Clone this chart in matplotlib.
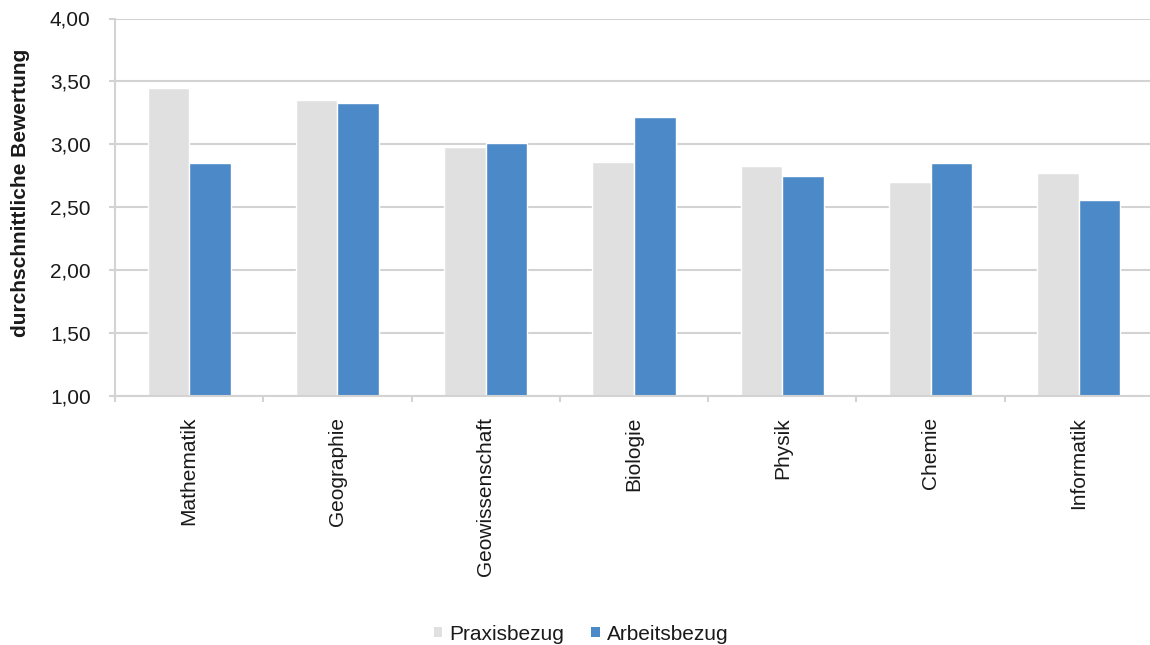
import matplotlib
matplotlib.use("Agg")
import matplotlib.pyplot as plt
import numpy as np
from matplotlib.patches import Patch
from matplotlib.ticker import FixedLocator, FuncFormatter

plt.rcParams['font.family'] = ['Liberation Sans', 'DejaVu Sans']

categories = ["Mathematik", "Geographie", "Geowissenschaft", "Biologie",
              "Physik", "Chemie", "Informatik"]
praxisbezug = [3.45, 3.35, 2.98, 2.86, 2.83, 2.70, 2.77]
arbeitsbezug = [2.85, 3.33, 3.01, 3.22, 2.75, 2.85, 2.56]
series_names = ["Praxisbezug", "Arbeitsbezug"]
y_ticks = [1.0, 1.5, 2.0, 2.5, 3.0, 3.5, 4.0]

grey = "#E0E0E0"
blue = "#4B89C8"
grid_col = "#D3D3D3"
text_col = "#1a1a1a"

fig = plt.figure(figsize=(11.5, 6.45), dpi=100)
ax = fig.add_axes([115 / 1150, 1 - 396 / 645, 1038 / 1150, (396 - 18.5) / 645])

x = np.arange(len(categories))
w = 0.28
ax.bar(x - w / 2, praxisbezug, width=w, bottom=0, color=grey,
       edgecolor="white", linewidth=1.0, zorder=3)
ax.bar(x + w / 2, arbeitsbezug, width=w, bottom=0, color=blue,
       edgecolor="white", linewidth=1.0, zorder=3)

ax.set_xlim(-0.5, len(categories) - 0.5)
ax.set_ylim(1.0, 4.0)

ax.yaxis.set_major_locator(FixedLocator(y_ticks))
ax.yaxis.set_major_formatter(FuncFormatter(lambda v, p: f"{v:.2f}".replace(".", ",")))
ax.grid(axis="y", color=grid_col, linewidth=1.5, zorder=0)
ax.tick_params(axis="y", length=4.5, width=1.5, color=grid_col, pad=13,
               labelsize=15, labelcolor=text_col)

ax.set_xticks(x)
ax.set_xticklabels(categories, rotation=90, va="top", ha="center")
ax.set_xticks(np.arange(len(categories) + 1) - 0.5, minor=True)
ax.tick_params(axis="x", which="major", length=0, pad=15,
               labelsize=15, labelcolor=text_col)
ax.tick_params(axis="x", which="minor", length=4, width=1.5, color=grid_col)

for side in ["top", "right"]:
    ax.spines[side].set_visible(False)
ax.spines["left"].set_color(grid_col)
ax.spines["left"].set_linewidth(1.5)
ax.spines["bottom"].set_color(grid_col)
ax.spines["bottom"].set_linewidth(1.5)
ax.spines["bottom"].set_zorder(4)

fig.text(21 / 1150, 1 - 193 / 645, "durchschnittliche Bewertung", rotation=90,
         ha="center", va="center", fontsize=15, fontweight="bold", color=text_col)

handles = [Patch(facecolor=grey, edgecolor="none"),
           Patch(facecolor=blue, edgecolor="none")]
fig.legend(handles, series_names, loc="center",
           bbox_to_anchor=(581 / 1150, 1 - 634 / 645), ncol=2, frameon=False,
           fontsize=15, handlelength=0.4, handleheight=0.4, handletextpad=0.35,
           columnspacing=1.3, labelcolor=text_col)

fig.savefig("out.png", dpi=100)
